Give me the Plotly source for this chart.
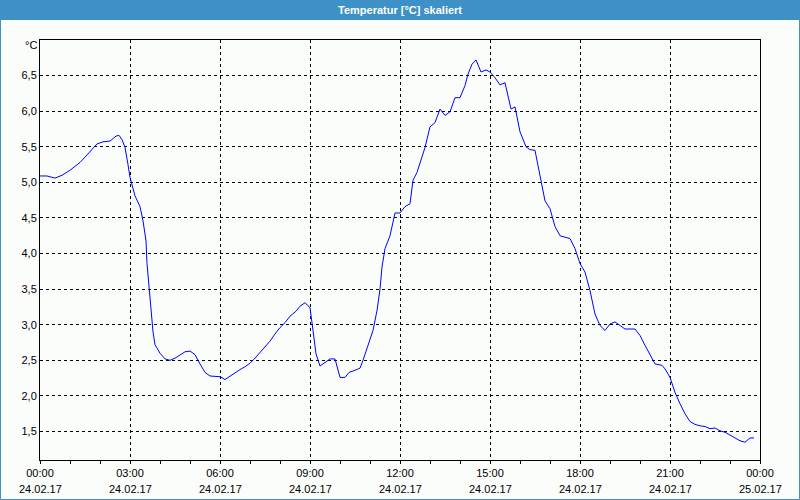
import plotly.graph_objects as go
import pandas as pd

# minutes since 24.02.17 00:00
minutes = [0, 14, 30, 44, 60, 80, 92, 104, 114, 126, 140, 152, 158, 164, 170, 176, 180,
           190, 200, 206, 212, 214, 220, 226, 230, 240, 250, 260, 270, 280, 290, 300,
           310, 320, 330, 340, 350, 360, 370, 380, 390, 400, 410, 420, 430, 440, 450,
           460, 470, 480, 490, 500, 512, 520, 530, 540, 546, 552, 560, 570, 580, 590,
           600, 610, 618, 630, 640, 646, 656, 666, 674, 680, 684, 690, 700, 710, 720,
           730, 740, 746, 754, 760, 770, 780, 790, 800, 810, 820, 830, 840, 850, 856,
           864, 872, 882, 892, 900, 910, 920, 930, 942, 950, 960, 972, 980, 990, 1000,
           1010, 1020, 1030, 1040, 1060, 1070, 1080, 1090, 1100, 1110, 1120, 1130, 1140,
           1150, 1160, 1170, 1190, 1200, 1210, 1220, 1230, 1244, 1250, 1260, 1270, 1280,
           1290, 1300, 1310, 1320, 1330, 1340, 1350, 1360, 1370, 1380, 1390, 1400, 1410,
           1420, 1428]
temps = [5.09, 5.09, 5.06, 5.10, 5.17, 5.28, 5.37, 5.47, 5.54, 5.57, 5.58, 5.65, 5.66, 5.60,
         5.49, 5.25, 5.07, 4.81, 4.66, 4.46, 4.18, 3.86, 3.38, 2.90, 2.72, 2.60, 2.52, 2.50,
         2.53, 2.57, 2.62, 2.63, 2.58, 2.45, 2.33, 2.28, 2.27, 2.27, 2.23, 2.28, 2.33, 2.37,
         2.41, 2.46, 2.53, 2.61, 2.69, 2.77, 2.87, 2.96, 3.03, 3.12, 3.19, 3.26, 3.31, 3.24,
         2.92, 2.59, 2.42, 2.47, 2.52, 2.52, 2.26, 2.26, 2.33, 2.36, 2.39, 2.50, 2.71, 2.92,
         3.20, 3.50, 3.81, 4.07, 4.25, 4.57, 4.57, 4.66, 4.70, 5.03, 5.14, 5.26, 5.49, 5.78,
         5.84, 6.03, 5.94, 5.99, 6.19, 6.19, 6.36, 6.52, 6.66, 6.72, 6.55, 6.58, 6.55, 6.47,
         6.37, 6.40, 6.03, 6.06, 5.71, 5.50, 5.46, 5.45, 5.12, 4.74, 4.63, 4.38, 4.25, 4.21,
         4.07, 3.86, 3.74, 3.48, 3.15, 2.99, 2.92, 3.01, 3.04, 2.99, 2.94, 2.94, 2.85, 2.71,
         2.59, 2.45, 2.43, 2.38, 2.26, 2.05, 1.89, 1.75, 1.64, 1.60, 1.58, 1.57, 1.54, 1.55,
         1.51, 1.49, 1.45, 1.41, 1.37, 1.35, 1.41, 1.41]

tick_hours = [0, 3, 6, 9, 12, 15, 18, 21, 24]
tick_time = ["00:00", "03:00", "06:00", "09:00", "12:00", "15:00", "18:00", "21:00", "00:00"]
tick_date = ["24.02.17"] * 8 + ["25.02.17"]
y_ticks = [1.5, 2.0, 2.5, 3.0, 3.5, 4.0, 4.5, 5.0, 5.5, 6.0, 6.5]

base = pd.Timestamp("2017-02-24 00:00")
times = [base + pd.Timedelta(minutes=m) for m in minutes]
tickvals = [base + pd.Timedelta(hours=h) for h in tick_hours]

BG = "#fbfdfb"
BLUE = "#3d91c6"
FONT = "Liberation Sans"

fig = go.Figure()
fig.add_trace(go.Scatter(x=times, y=temps, mode="lines",
                         line=dict(color="#0000ff", width=1), hoverinfo="skip"))

annotations = [
    dict(text="Temperatur [°C] skaliert", xref="paper", yref="paper",
         x=0.5, y=1 + 30 / 420, xanchor="center", yanchor="middle", showarrow=False,
         font=dict(family=FONT, size=11, color="#ffffff", weight="bold")),
    dict(text="°C", xref="paper", yref="paper", x=0, y=1, xanchor="right",
         yanchor="middle", xshift=-1, yshift=-5, showarrow=False,
         font=dict(family=FONT, size=11, color="#000000")),
]
for tv, d in zip(tickvals, tick_date):
    annotations.append(dict(text=d, xref="x", yref="paper", x=tv, y=-28.5 / 420,
                            xanchor="center", yanchor="middle", showarrow=False,
                            font=dict(family=FONT, size=11, color="#000000")))

fig.update_layout(
    width=800, height=500,
    margin=dict(l=40, r=40, t=40, b=40),
    paper_bgcolor=BG, plot_bgcolor=BG,
    showlegend=False,
    separators=",.",
    font=dict(family=FONT, size=11, color="#000000"),
    xaxis=dict(
        type="date",
        range=[base, base + pd.Timedelta(hours=24)],
        tickmode="array", tickvals=tickvals, ticktext=tick_time,
        showgrid=True, gridcolor="#000000", griddash="3px,3px", gridwidth=1,
        showline=True, mirror=True, linecolor="#000000", linewidth=1,
        ticks="outside", ticklen=3, tickcolor="#000000", ticklabelstandoff=0,
        minor=dict(ticks="outside", ticklen=3, tickcolor="#000000",
                   dtick=3600000, showgrid=False),
        zeroline=False, fixedrange=True,
    ),
    yaxis=dict(
        range=[1.1, 7.0],
        tickmode="array", tickvals=y_ticks, tickformat=".1f",
        showgrid=True, gridcolor="#000000", griddash="3px,3px", gridwidth=1,
        showline=True, mirror=True, linecolor="#000000", linewidth=1,
        ticks="", zeroline=False, fixedrange=True,
    ),
    shapes=[
        dict(type="rect", xref="paper", yref="paper",
             x0=-40 / 720, x1=1 + 40 / 720, y0=1 + 20 / 420, y1=1 + 40 / 420,
             fillcolor=BLUE, line=dict(width=0), layer="above"),
        dict(type="rect", xref="paper", yref="paper",
             x0=-39.5 / 720, x1=1 + 39.5 / 720, y0=-39.5 / 420, y1=1 + 40 / 420,
             fillcolor="rgba(0,0,0,0)", line=dict(color=BLUE, width=1), layer="above"),
    ],
    annotations=annotations,
)

fig.write_html("out.html")
